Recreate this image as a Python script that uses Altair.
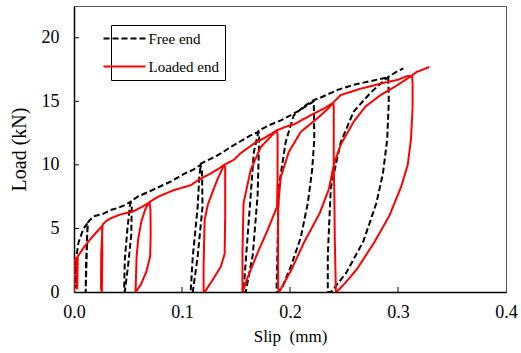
import altair as alt
import pandas as pd

# Free end (black dashed) - slip (mm), load (kN), path order
free_slip = [0, 0.0012, 0.0016, 0.0022, 0.0042, 0.0088, 0.0125,
             0.0118, 0.0108, 0.0112, 0.0122, 0.0130,
             0.018, 0.027, 0.0338, 0.040, 0.046, 0.0524,
             0.0535, 0.053, 0.050, 0.047,
             0.0465, 0.047, 0.0495, 0.052, 0.0535,
             0.059, 0.072, 0.090, 0.102, 0.110, 0.117,
             0.1185, 0.119, 0.1145, 0.110,
             0.108, 0.110, 0.1145, 0.116, 0.1175,
             0.127, 0.136, 0.145, 0.155, 0.163, 0.171,
             0.1715, 0.170, 0.1655, 0.159,
             0.157, 0.159, 0.1636, 0.1665, 0.171,
             0.180, 0.1915, 0.207, 0.222,
             0.2225, 0.2205, 0.2165, 0.210, 0.2007, 0.193, 0.189,
             0.1875, 0.1885, 0.1895, 0.196, 0.2035, 0.213, 0.222,
             0.2285, 0.244, 0.259, 0.275, 0.291,
             0.2915, 0.290, 0.286, 0.280, 0.268, 0.252, 0.238,
             0.235, 0.235, 0.2378, 0.247, 0.259, 0.2749, 0.2906,
             0.298, 0.305]
free_load = [0, 2.7, 0.3, 2.8, 3.9, 5.0, 5.4,
             3.0, 0, 2.5, 4.5, 5.5,
             5.95, 6.15, 6.45, 6.6, 6.8, 7.1,
             6.8, 4.5, 2.0, 0,
             0.5, 2.5, 5.0, 7.0, 7.2,
             7.5, 8.0, 8.7, 9.3, 9.6, 10.0,
             9.5, 6.7, 2.8, 0,
             0, 2.8, 6.7, 9.0, 10.1,
             10.5, 10.9, 11.4, 11.9, 12.3, 12.6,
             12.2, 7.6, 2.9, 0,
             0, 2.4, 7.6, 11.0, 12.7,
             13.1, 13.5, 14.2, 15.0,
             12.0, 9.6, 7.0, 4.3, 2.0, 0.4, 0,
             0, 3.7, 8.2, 11.8, 13.9, 14.6, 15.1,
             15.3, 15.9, 16.3, 16.6, 16.9,
             15.0, 12.0, 9.3, 7.0, 4.0, 1.5, 0,
             0, 2.9, 8.2, 11.8, 14.2, 15.7, 16.9,
             17.3, 17.6]

# Loaded end (red solid)
loaded_slip = [0, 0.0003, 0.0025, 0.0030, 0.0035, 0.009, 0.0155, 0.024, 0.026,
               0.0262, 0.0258, 0.0250, 0.0252, 0.0265,
               0.030, 0.034, 0.043, 0.055, 0.063, 0.069, 0.070,
               0.0708, 0.0710, 0.0705, 0.067, 0.062, 0.058, 0.057,
               0.0575, 0.058, 0.0595, 0.0625, 0.066, 0.0695,
               0.078, 0.092, 0.108, 0.117, 0.126, 0.134, 0.139,
               0.140, 0.140, 0.1395, 0.136, 0.128, 0.121,
               0.120, 0.120, 0.1205, 0.121, 0.124, 0.128, 0.133, 0.139,
               0.148, 0.154, 0.167, 0.176, 0.1875,
               0.1885, 0.1885, 0.188, 0.1794, 0.1701, 0.161, 0.156,
               0.156, 0.157, 0.1636, 0.1729, 0.1875,
               0.196, 0.204, 0.219, 0.233, 0.240,
               0.2405, 0.2405, 0.2405, 0.236, 0.2275, 0.213, 0.201, 0.190,
               0.189, 0.189, 0.189, 0.1914, 0.1988, 0.210, 0.2258, 0.235, 0.240,
               0.247, 0.2656, 0.284, 0.300, 0.309, 0.313,
               0.3135, 0.3135, 0.312, 0.309, 0.303, 0.292, 0.278, 0.262, 0.250, 0.243,
               0.2425, 0.2415, 0.241, 0.2405, 0.247, 0.259, 0.270, 0.284, 0.298, 0.3125,
               0.317, 0.323, 0.329]
loaded_load = [0, 2.5, 2.7, 0.2, 2.8, 3.5, 4.2, 5.0, 5.2,
               3.0, 0, 0.3, 3.0, 5.3,
               5.6, 5.8, 6.1, 6.35, 6.7, 7.0, 7.05,
               6.5, 4.5, 2.8, 1.6, 0.6, 0.1, 0,
               1.5, 2.8, 4.2, 5.6, 6.5, 7.05,
               7.5, 8.0, 8.4, 8.9, 9.3, 9.7, 10.0,
               9.8, 6.0, 3.0, 2.0, 0.9, 0,
               0, 2.0, 4.0, 5.7, 6.9, 7.8, 8.9, 10.0,
               10.4, 10.9, 11.7, 12.1, 12.7,
               12.4, 9.0, 6.7, 4.9, 3.1, 1.2, 0,
               3.1, 7.0, 9.6, 11.4, 12.7,
               13.0, 13.2, 13.9, 14.5, 14.9,
               14.5, 12.0, 10.0, 8.1, 6.2, 3.9, 1.7, 0,
               0.3, 3.0, 6.7, 9.0, 11.0, 12.6, 13.7, 14.4, 14.9,
               15.5, 16.0, 16.4, 16.7, 17.0, 17.0,
               16.5, 14.5, 12.0, 10.0, 8.3, 6.0, 3.9, 1.8, 0.6, 0,
               0, 4.0, 8.0, 10.0, 11.6, 13.4, 14.6, 15.5, 16.2, 17.0,
               17.3, 17.5, 17.7]

series_names = ["Free end", "Loaded end"]
series_colors = ["black", "red"]
x_tick_values = [0.0, 0.1, 0.2, 0.3, 0.4]
y_tick_values = [0, 5, 10, 15, 20]
x_inner_ticks = [0.1, 0.2, 0.3]
y_inner_ticks = [5, 10, 15, 20]

rows = []
for i, (s, l) in enumerate(zip(free_slip, free_load)):
    rows.append({"slip": s, "load": l, "series": "Free end", "i": i})
for i, (s, l) in enumerate(zip(loaded_slip, loaded_load)):
    rows.append({"slip": s, "load": l, "series": "Loaded end", "i": i})
df = pd.DataFrame(rows)

FONT = "Liberation Serif"
W, H = 432, 286

x_scale = alt.Scale(domain=[0, 0.4], nice=False, zero=False)
y_scale = alt.Scale(domain=[0, 22.5], nice=False)
x_axis = alt.Axis(title="Slip\u2002(mm)", values=x_tick_values, format=".1f",
                  labelPadding=11, titlePadding=7, labelFlush=False,
                  labelFont=FONT, titleFont=FONT, labelFontSize=18, titleFontSize=17,
                  titleFontWeight="normal", labelFontWeight="normal")
y_axis = alt.Axis(title="Load (kN)", values=y_tick_values, format="d",
                  labelPadding=15, titlePadding=12, labelFlush=False,
                  labelFont=FONT, titleFont=FONT, labelFontSize=18, titleFontSize=20,
                  titleFontWeight="normal", labelFontWeight="normal")

legend_def = alt.Legend(
    title=None, orient="none", legendX=37, legendY=19,
    symbolType="M-3,0H3", symbolSize=196, symbolStrokeWidth=2,
    labelFont=FONT, labelFontSize=15, labelColor="black",
    fillColor="white", strokeColor="black", padding=5.5,
    rowPadding=12, labelOffset=16,
)

lines = alt.Chart(df).mark_line(strokeWidth=2, clip=True, strokeCap="butt").encode(
    x=alt.X("slip:Q", scale=x_scale, axis=x_axis),
    y=alt.Y("load:Q", scale=y_scale, axis=y_axis),
    color=alt.Color("series:N", scale=alt.Scale(domain=series_names, range=series_colors),
                    legend=legend_def),
    strokeDash=alt.StrokeDash("series:N",
                              scale=alt.Scale(domain=series_names, range=[[6, 3], [1, 0]]),
                              legend=legend_def),
    order=alt.Order("i:Q"),
)

xt = alt.Chart(pd.DataFrame({"slip": x_inner_ticks})).mark_rule(color="black", strokeWidth=1).encode(
    x=alt.X("slip:Q", scale=x_scale, axis=x_axis), y=alt.value(H), y2=alt.value(H - 5))
yt = alt.Chart(pd.DataFrame({"load": y_inner_ticks})).mark_rule(color="black", strokeWidth=1).encode(
    y=alt.Y("load:Q", scale=y_scale, axis=y_axis), x=alt.value(0), x2=alt.value(5))

chart = alt.layer(lines, xt, yt).properties(
    width=W, height=H,
    padding={"left": 74, "top": 6, "right": 15, "bottom": 61},
    autosize=alt.AutoSizeParams(type="none"),
).configure(
    font=FONT
).configure_view(
    stroke="#555555", strokeWidth=1
).configure_axis(
    labelFont=FONT, titleFont=FONT,
    titleFontWeight="normal", labelColor="black", titleColor="black",
    ticks=False, grid=False, domainColor="black", domainWidth=1.5,
)

chart.save("out.html", embed_options={"renderer": "svg", "actions": False})
